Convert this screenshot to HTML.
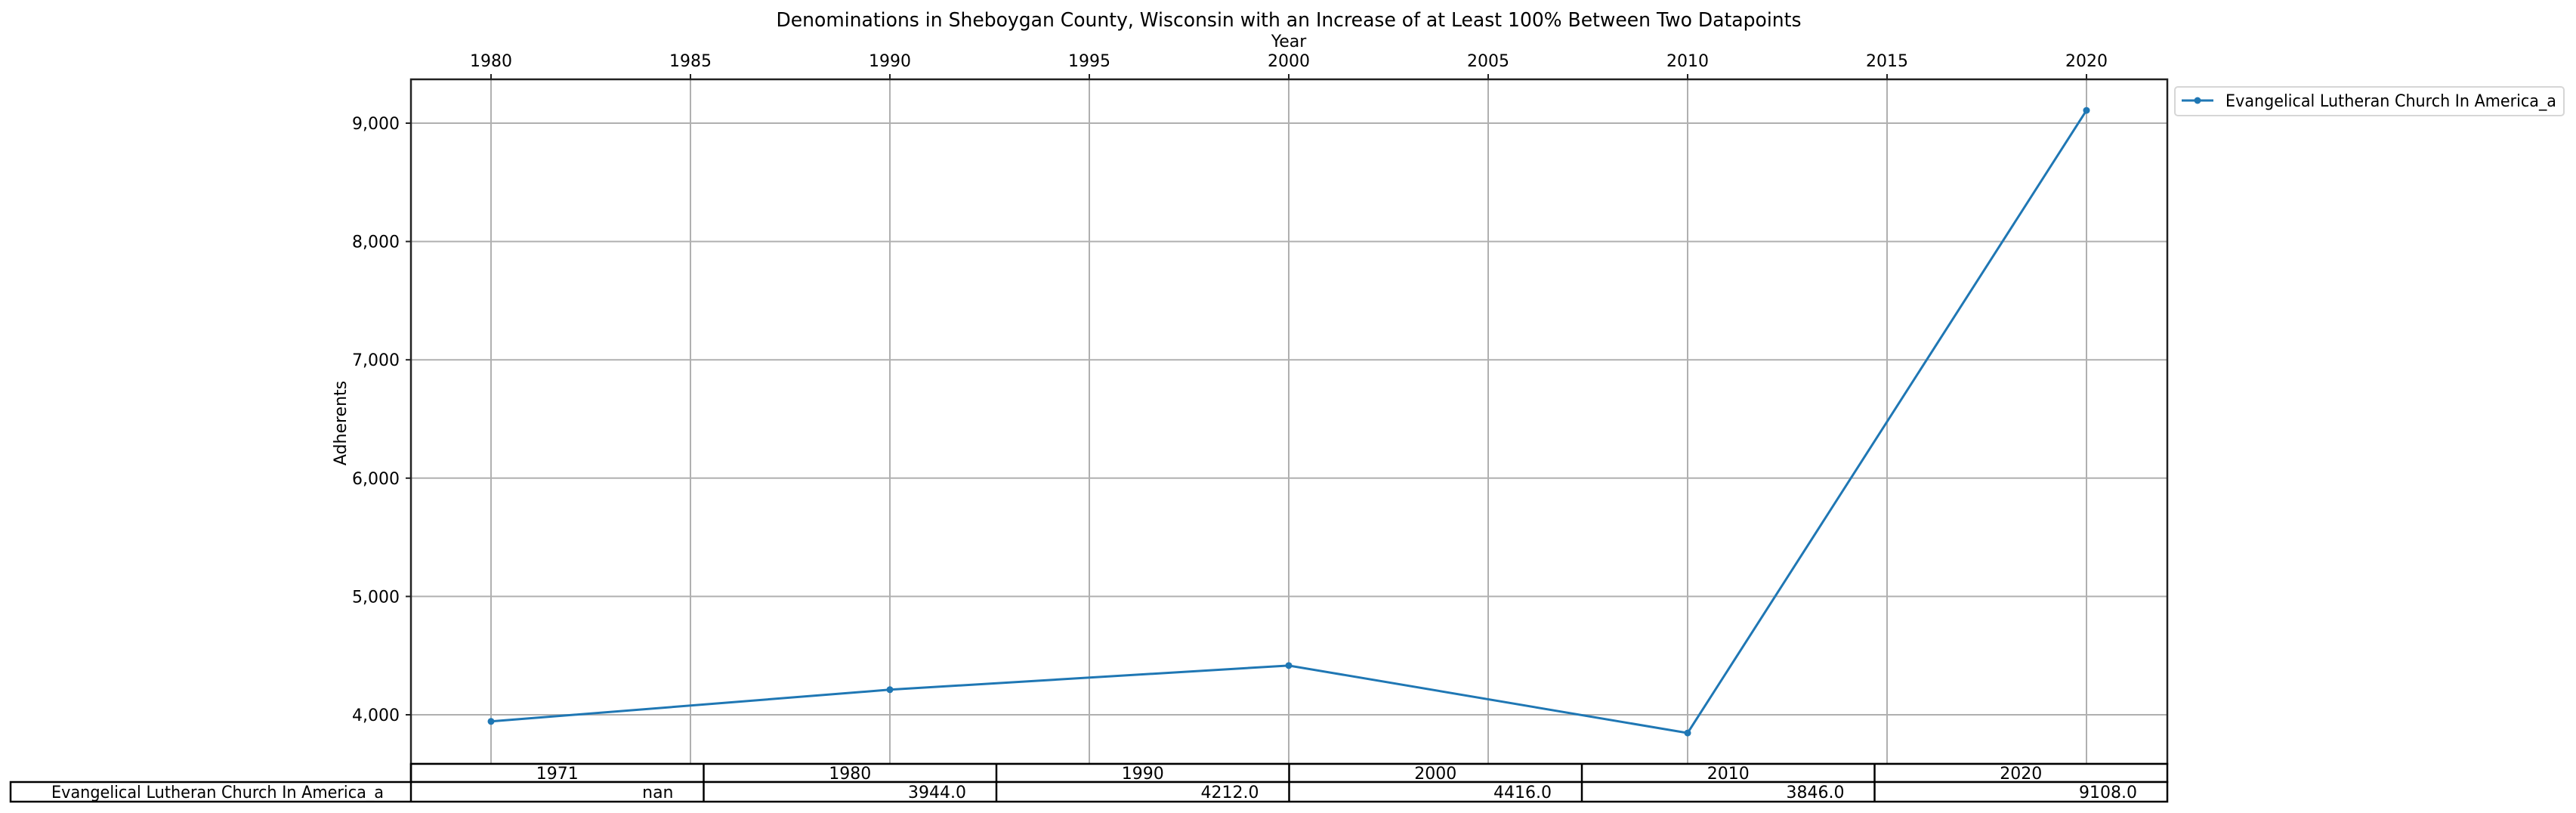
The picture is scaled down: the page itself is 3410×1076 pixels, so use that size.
<!DOCTYPE html>
<html><head><meta charset="utf-8"><style>
body{margin:0;background:#fff}
svg{display:block;font-family:"DejaVu Sans","Liberation Sans",sans-serif}
</style></head><body>
<svg id="chart" width="3410" height="1076" viewBox="0 0 3410 1076" xmlns="http://www.w3.org/2000/svg">
<text x="1706" y="35" font-size="26" text-anchor="middle" textLength="1357" lengthAdjust="spacingAndGlyphs">Denominations in Sheboygan County, Wisconsin with an Increase of at Least 100% Between Two Datapoints</text>
<text x="1706" y="62" font-size="22" text-anchor="middle">Year</text>
<text x="0" y="0" font-size="22" text-anchor="middle" transform="translate(458,560) rotate(-90)">Adherents</text>
<g id="grid"></g>
<g id="ticks"></g>
<g id="series"></g>
<rect x="544" y="105" width="2325" height="906" fill="none" stroke="#222" stroke-width="2.5"/>
<g id="table"></g>
<g>
<rect x="2879" y="115" width="515" height="38" rx="4" fill="#fff" stroke="#d6d6d6" stroke-width="2"/>
<line x1="2888" y1="133" x2="2930" y2="133" stroke="#1f77b4" stroke-width="3"/>
<circle cx="2909" cy="133" r="4.5" fill="#1f77b4"/>
<text x="2946" y="141" font-size="22" textLength="438" lengthAdjust="spacingAndGlyphs">Evangelical Lutheran Church In America_a</text>
</g>
</svg>
<script>
const years = [1980, 1990, 2000, 2010, 2020];
const adherents = [3944, 4212, 4416, 3846, 9108];
const xTicks = [1980, 1985, 1990, 1995, 2000, 2005, 2010, 2015, 2020];
const yTicks = [4000, 5000, 6000, 7000, 8000, 9000];
const tableYears = ["1971", "1980", "1990", "2000", "2010", "2020"];
const tableValues = ["nan", "3944.0", "4212.0", "4416.0", "3846.0", "9108.0"];
const seriesName = "Evangelical Lutheran Church In America_a";

const NS = "http://www.w3.org/2000/svg";
const L = 544, R = 2869, T = 105, B = 1011;
function xs(v){ return 650 + (v - 1980) * 52.8; }
function ys(v){ return 946 - (v - 4000) * 0.1566; }
function mk(tag, attrs, parent){ const e = document.createElementNS(NS, tag); for (const k in attrs) e.setAttribute(k, attrs[k]); parent.appendChild(e); return e; }
const grid = document.getElementById('grid'), ticks = document.getElementById('ticks'), series = document.getElementById('series'), table = document.getElementById('table');

xTicks.forEach(t => {
  const x = xs(t);
  const g = mk('line', {x1:x, x2:x, y1:T, y2:B, stroke:'#b0b0b0', 'stroke-width':2}, grid);
  
  
  mk('line', {x1:x, x2:x, y1:T, y2:T-7, stroke:'#222', 'stroke-width':2}, ticks);
  const tx = mk('text', {x:x, y:88, 'font-size':22, 'text-anchor':'middle'}, ticks);
  tx.textContent = t;
  
  
});
yTicks.forEach(t => {
  const y = ys(t);
  const g = mk('line', {x1:L, x2:R, y1:y, y2:y, stroke:'#b0b0b0', 'stroke-width':2}, grid);
  
  
  mk('line', {x1:L, x2:L-7, y1:y, y2:y, stroke:'#222', 'stroke-width':2}, ticks);
  const tx = mk('text', {x:529, y:y+8, 'font-size':22, 'text-anchor':'end'}, ticks);
  tx.textContent = t.toLocaleString('en-US');
  
  
});
const pts = years.map((yr, i) => xs(yr) + ',' + ys(adherents[i])).join(' ');
const pl = mk('polyline', {points:pts, fill:'none', stroke:'#1f77b4', 'stroke-width':3}, series);


years.forEach((yr, i) => {
  const c = mk('circle', {cx:xs(yr), cy:ys(adherents[i]), r:4.5, fill:'#1f77b4'}, series);
  
  
});
const colW = (R - L) / tableYears.length;
const hdr = mk('rect', {x:L, y:1011, width:R-L, height:24, fill:'#fff', stroke:'#000', 'stroke-width':2.5}, table);


const row = mk('rect', {x:14, y:1035, width:R-14, height:26, fill:'#fff', stroke:'#000', 'stroke-width':2.5}, table);


mk('line', {x1:L, x2:L, y1:1011, y2:1061, stroke:'#000', 'stroke-width':2.5}, table);
const rl = mk('text', {x:288, y:1056, 'font-size':22, 'text-anchor':'middle', textLength:440, lengthAdjust:'spacingAndGlyphs'}, table);
rl.textContent = seriesName;


tableYears.forEach((yr, i) => {
  const x0 = L + i * colW;
  if (i > 0) mk('line', {x1:x0, x2:x0, y1:1011, y2:1061, stroke:'#000', 'stroke-width':2.5}, table);
  const h = mk('text', {x:x0 + colW/2, y:1031, 'font-size':22, 'text-anchor':'middle'}, table);
  h.textContent = yr;
  
  
  const v = mk('text', {x:x0 + colW - 40, y:1056, 'font-size':22, 'text-anchor':'end'}, table);
  v.textContent = tableValues[i];
  
  
});
</script>
</body></html>
